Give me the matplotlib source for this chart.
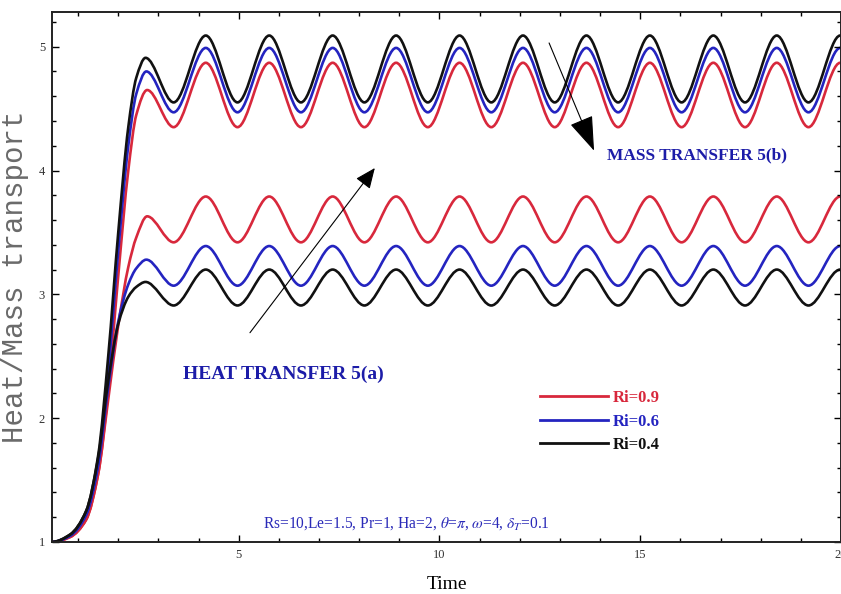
import numpy as np
import matplotlib
matplotlib.use("Agg")
import matplotlib.pyplot as plt
from matplotlib.path import Path
from matplotlib.patches import PathPatch
from matplotlib.lines import Line2D

plt.rcParams['font.family'] = ['Liberation Serif', 'DejaVu Serif']
plt.rcParams['mathtext.fontset'] = 'stix'

# ---- values ----
labels = ["Ri=0.9", "Ri=0.6", "Ri=0.4"]
colors = ["#d8283c", "#2424c0", "#111111"]

# start-up part (all curves start at 1)
rise_t = [0.35, 0.8, 1.2, 1.5, 1.75, 2.0, 2.25, 2.45]
mass_rise = [
    [1.0, 1.04, 1.18, 1.55, 2.22, 3.15, 4.00, 4.45],   # Ri=0.9
    [1.0, 1.05, 1.22, 1.63, 2.38, 3.35, 4.20, 4.62],   # Ri=0.6
    [1.0, 1.06, 1.25, 1.70, 2.50, 3.50, 4.35, 4.75],   # Ri=0.4
]
heat_rise = [
    [1.0, 1.04, 1.18, 1.55, 2.15, 2.75, 3.22, 3.46],
    [1.0, 1.05, 1.22, 1.62, 2.25, 2.78, 3.08, 3.21],
    [1.0, 1.06, 1.25, 1.68, 2.30, 2.76, 2.98, 3.06],
]
# first overshoot
first_peak_t = [2.72, 2.70, 2.68]
mass_first_peak = [4.65, 4.80, 4.91]
heat_first_peak = [3.63, 3.28, 3.10]

# oscillation extrema (times shared by all curves)
trough_t = [3.38, 4.97, 6.55, 8.13, 9.71, 11.29, 12.87, 14.45, 16.03, 17.61, 19.19]
peak_t = [4.18, 5.76, 7.34, 8.92, 10.50, 12.08, 13.66, 15.24, 16.82, 18.40, 19.98]
mass_peak = [4.87, 4.99, 5.09]
mass_trough = [4.35, 4.47, 4.55]
heat_peak = [3.79, 3.39, 3.20]
heat_trough = [3.42, 3.07, 2.91]


def smooth_path(x, y):
    # monotone cubic (flat at extrema) drawn as bezier segments
    x = np.asarray(x, float)
    y = np.asarray(y, float)
    h = np.diff(x)
    d = np.diff(y) / h
    m = np.zeros_like(y)
    for k in range(1, len(x) - 1):
        if d[k - 1] * d[k] > 0:
            w1 = 2 * h[k] + h[k - 1]
            w2 = h[k] + 2 * h[k - 1]
            m[k] = (w1 + w2) / (w1 / d[k - 1] + w2 / d[k])
    verts = [(x[0], y[0])]
    codes = [Path.MOVETO]
    for k in range(len(x) - 1):
        verts += [(x[k] + h[k] / 3, y[k] + m[k] * h[k] / 3),
                  (x[k + 1] - h[k] / 3, y[k + 1] - m[k + 1] * h[k] / 3),
                  (x[k + 1], y[k + 1])]
        codes += [Path.CURVE4] * 3
    return Path(verts, codes)


def series(rise, fp_t, fp, pk, tr):
    t = list(rise_t) + [fp_t]
    v = list(rise) + [fp]
    for a, b in zip(trough_t, peak_t):
        t += [a, b]
        v += [tr, pk]
    return t, v


fig = plt.figure(figsize=(8.41, 5.94), dpi=100)
ax = fig.add_axes([52 / 841, 52 / 594, 789 / 841, 530 / 594])

for i in range(3):
    for rise, fp, pk, tr in [(mass_rise[i], mass_first_peak[i], mass_peak[i], mass_trough[i]),
                             (heat_rise[i], heat_first_peak[i], heat_peak[i], heat_trough[i])]:
        t, v = series(rise, first_peak_t[i], fp, pk, tr)
        ax.add_patch(PathPatch(smooth_path(t, v), fill=False, edgecolor=colors[i],
                               lw=1.9, capstyle='round', joinstyle='round'))

ax.set_xlim(0.35, 20.0)
ax.set_ylim(1.0, 5.28)
ax.set_xticks([5, 10, 15, 20])
ax.set_xticks(np.arange(1, 21), minor=True)
ax.set_yticks([1, 2, 3, 4, 5])
ax.set_yticks(np.arange(1, 5.3, 0.2), minor=True)
ax.tick_params(which='both', direction='in', top=True, right=True,
               labelsize=9, labelcolor='#333333', width=1)
ax.tick_params(which='major', length=5, pad=5)
ax.tick_params(which='minor', length=3)
for s in ax.spines.values():
    s.set_linewidth(1.4)
    s.set_color('#222222')

ax.set_xlabel("Time", fontsize=14, labelpad=11)
ax.set_ylabel("Heat/Mass transport", fontsize=21, family='Liberation Mono',
              color='#6a6a6a', labelpad=7)

# annotations
ax.text(3.61, 2.35, "HEAT TRANSFER 5(a)", fontsize=14, fontweight='bold',
        color='#1c1ca8', va='center', ha='left')
ax.text(14.17, 4.12, "MASS TRANSFER 5(b)", fontsize=12.5, fontweight='bold',
        color='#1c1ca8', va='center', ha='left')
ax.annotate('', xy=(8.39, 4.02), xytext=(5.28, 2.69),
            arrowprops=dict(arrowstyle='-|>,head_length=0.7,head_width=0.3',
                            mutation_scale=18, lw=0.8, color='black',
                            shrinkA=0, shrinkB=0))
ax.annotate('', xy=(13.85, 4.16), xytext=(12.73, 5.03),
            arrowprops=dict(arrowstyle='-|>,head_length=1.0,head_width=0.35',
                            mutation_scale=22, lw=0.8, color='black',
                            shrinkA=0, shrinkB=0))
ax.text(9.17, 1.15, r"Rs=10,Le=1.5, Pr=1, Ha=2, $\theta$=$\pi$, $\omega$=4, $\delta_T$=0.1",
        fontsize=11.2, color='#2a2ab8', ha='center', va='center')

handles = [Line2D([], [], color=c, lw=2) for c in colors]
leg = ax.legend(handles, labels, loc='upper left', frameon=False,
                bbox_to_anchor=(540 / 841, 1 - 390 / 594), bbox_transform=fig.transFigure,
                borderpad=0, borderaxespad=0, handlelength=4.1, handletextpad=0.25,
                labelspacing=0.45, prop={'weight': 'bold', 'size': 12})
for txt, c in zip(leg.get_texts(), colors):
    txt.set_color(c)

fig.savefig("out.png", dpi=100)
